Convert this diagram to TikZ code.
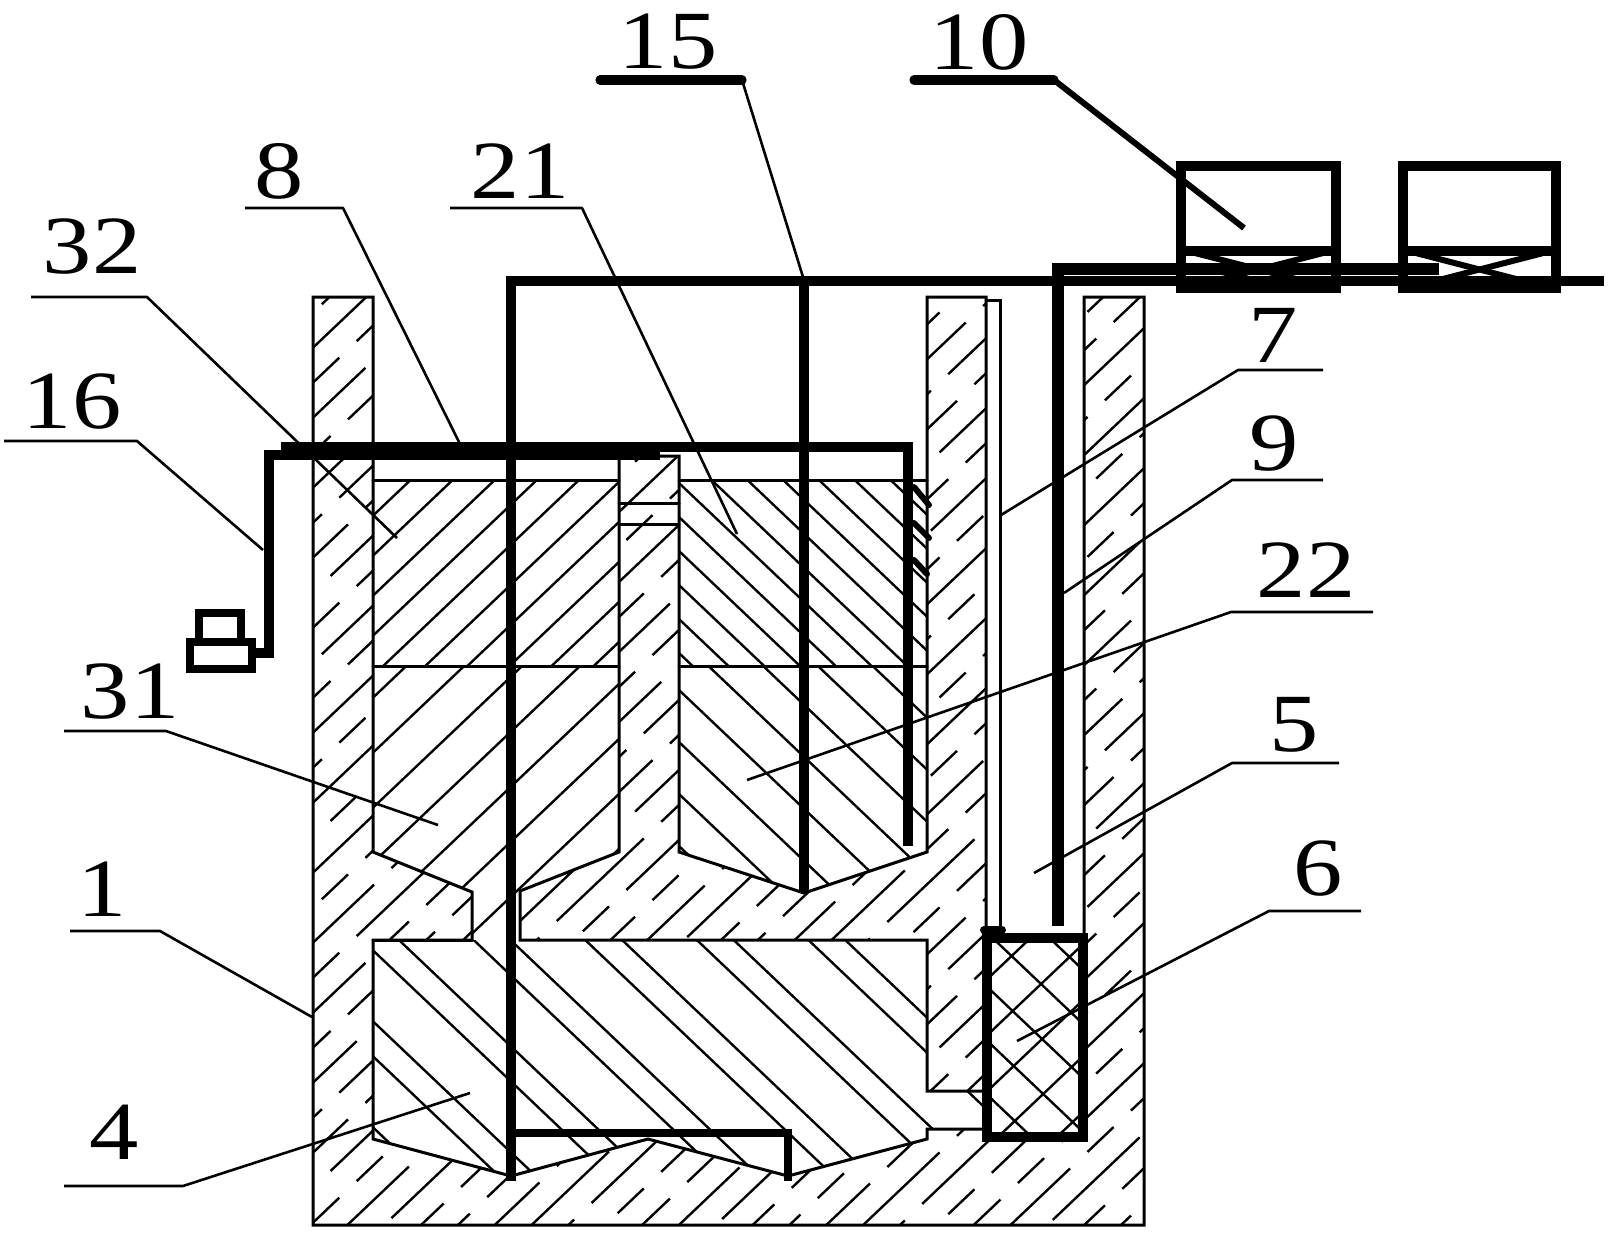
\documentclass[tikz,border=0pt]{standalone}
\usepackage{fontspec}
\setmainfont{Liberation Serif}
\tikzset{
    thinline/.style={line width=1.5pt, line cap=round, line join=miter},
    hatchline/.style={line width=1.2pt},
    rodline/.style={line width=4.6pt, line join=miter},
    leader/.style={line width=1.3pt, line join=round},
    numlabel/.style={font=\fontsize{44}{44}\selectfont, inner sep=0pt, xscale=1.12, yscale=0.94, transform shape}
}
% hatch families, slope 0.95
\newcommand{\hatchrise}[1]{\foreach \c in {#1} {\draw[hatchline] (0,\c) -- (1616,\c-1535.2);}}
\newcommand{\hatchfall}[1]{\foreach \c in {#1} {\draw[hatchline] (0,\c) -- (1616,\c+1535.2);}}
\newcommand{\bodyshape}{(313,297) -- (373,297) -- (373,852) -- (472,892) -- (472,940) -- (373,940) -- (373,1139) -- (511,1176) -- (648,1139) -- (788,1176) -- (927,1139) -- (927,1129) -- (987,1129) -- (987,1137) -- (1084,1137) -- (1084,297) -- (1144,297) -- (1144,1225) -- (313,1225) -- cycle}
\newcommand{\columnshape}{(520,891) -- (619,852) -- (619,456) -- (679,456) -- (679,852) -- (804,893) -- (927,852) -- (927,297) -- (986,297) -- (986,1091) -- (927,1091) -- (927,940) -- (520,940) -- cycle}
\begin{document}
\begin{tikzpicture}[x=0.5pt, y=-0.5pt]
    \useasboundingbox (0,0) rectangle (1616,1232);

    % body hatch, broken lines
    \begin{scope}
        \clip \bodyshape \columnshape;
        \foreach \c [count=\i] in {610,645,...,2320} {
            \pgfmathsetmacro{\ph}{mod(\i*54,102)}
            \draw[hatchline, dash pattern=on 60pt off 12pt on 18pt off 12pt, dash phase=\ph pt] (0,\c) -- (1616,\c-1535.2);
        }
    \end{scope}

    % inserts 32 and 31
    \begin{scope}
        \clip (373,480) rectangle (619,666);
        \hatchrise{830,870,...,1260}
    \end{scope}
    \begin{scope}
        \clip (373,666) -- (619,666) -- (619,852) -- (520,891) -- (520,940) -- (472,940) -- (472,892) -- (373,852) -- cycle;
        \hatchrise{997,1052,...,1500}
    \end{scope}

    % inserts 21 and 22
    \begin{scope}
        \clip (679,480) rectangle (927,666);
        \hatchfall{-400,-366,...,30}
    \end{scope}
    \begin{scope}
        \clip (679,666) -- (927,666) -- (927,852) -- (804,893) -- (679,852) -- cycle;
        \hatchfall{-215,-163,...,210}
    \end{scope}

    % block 4
    \begin{scope}
        \clip (373,940) -- (927,940) -- (927,1091) -- (987,1091) -- (987,1129) -- (927,1129) -- (927,1139) -- (788,1176) -- (648,1139) -- (511,1176) -- (373,1139) -- cycle;
        \hatchfall{137,243,349,455,561,667,773,172,278,384,490,596,702}
    \end{scope}

    % block 6
    \begin{scope}
        \clip (987,938) rectangle (1083,1137);
        \hatchrise{1861,1917,...,2170}
        \hatchfall{-113,-59,...,210}
    \end{scope}

    % outlines
    \draw[thinline] \bodyshape;
    \draw[thinline] \columnshape;
    \draw[thinline] (373,480) -- (619,480);
    \draw[thinline] (679,480) -- (927,480);
    \draw[thinline] (373,666) -- (619,666);
    \draw[thinline] (679,666) -- (927,666);
    \draw[thinline] (472,940) -- (373,940);
    \draw[thinline] (619,503) -- (679,503);
    \draw[thinline] (619,524) -- (679,524);
    \draw[thinline] (986,300) -- (1000,300) -- (1000,930);

    % rods
    \draw[rodline] (511,1181) -- (511,281) -- (1604,281);
    \draw[rodline] (804,281) -- (804,893);
    \draw[rodline, line width=4.2pt] (511,1133) -- (788,1133) -- (788,1181);
    \draw[rodline, line width=5pt] (281,447) -- (908,447) -- (908,846);
    \draw[rodline, line width=5pt] (660,455) -- (269,455) -- (269,653) -- (250,653);
    \draw[rodline, line width=5.6pt] (1058,926) -- (1058,269) -- (1439,269);
    \draw[rodline, line width=3pt, line cap=round] (914,487) -- (929,505);
    \draw[rodline, line width=3pt, line cap=round] (914,523) -- (929,538);
    \draw[rodline, line width=3pt, line cap=round] (914,560) -- (927,574);
    \draw[rodline, line cap=round, line width=4pt] (984,930) -- (1002,930);

    % sensor
    \draw[rodline, line width=4pt] (199,642) -- (199,613) -- (241,613) -- (241,642);
    \draw[rodline, line width=4pt] (190,642) rectangle (252,669);

    % box 6
    \draw[rodline] (987,938) rectangle (1083,1137);

    % valves
    \draw[rodline, line width=5.4pt] (1181,166) rectangle (1336,288);
    \draw[rodline, line width=5.4pt] (1181,251) -- (1336,251);
    \draw[rodline, line width=3pt] (1187,251) -- (1331,288);
    \draw[rodline, line width=3pt] (1187,288) -- (1331,251);
    \draw[rodline, line width=5.4pt] (1403,166) rectangle (1556,288);
    \draw[rodline, line width=5.4pt] (1403,251) -- (1556,251);
    \draw[rodline, line width=3pt] (1408,251) -- (1551,288);
    \draw[rodline, line width=3pt] (1408,288) -- (1551,251);

    % numbers
    \node[numlabel] (n15) at (668,42) {15};
    \node[numlabel] (n10) at (979,42) {10};
    \node[numlabel] (n8) at (279,171) {8};
    \node[numlabel] (n21) at (520,171) {21};
    \node[numlabel] (n32) at (92,247) {32};
    \node[numlabel] (n16) at (72,402) {16};
    \node[numlabel] (n31) at (130,692) {31};
    \node[numlabel] (n1) at (102,889) {1};
    \node[numlabel] (n4) at (114,1132) {4};
    \node[numlabel] (n7) at (1273,335) {7};
    \node[numlabel] (n9) at (1274,444) {9};
    \node[numlabel] (n22) at (1306,570) {22};
    \node[numlabel] (n5) at (1294,725) {5};
    \node[numlabel] (n6) at (1318,869) {6};

    % leader lines
    \coordinate (s15) at (600,80); \coordinate (k15) at (742,80); \coordinate (t15) at (803,277);
    \draw[rodline, line cap=round] (s15) -- (k15);
    \draw[leader] (k15) -- (t15);
    \coordinate (s10) at (914,80); \coordinate (k10) at (1054,80); \coordinate (t10) at (1244,228);
    \draw[rodline, line cap=round] (s10) -- (k10);
    \draw[rodline, line width=3pt] (k10) -- (t10);
    \coordinate (s8) at (245,208); \coordinate (k8) at (343,208); \coordinate (t8) at (459,442);
    \draw[leader] (s8) -- (k8) -- (t8);
    \coordinate (s21) at (450,208); \coordinate (k21) at (582,208); \coordinate (t21) at (737,534);
    \draw[leader] (s21) -- (k21) -- (t21);
    \coordinate (s32) at (31,297); \coordinate (k32) at (147,297); \coordinate (t32) at (397,538);
    \draw[leader] (s32) -- (k32) -- (t32);
    \coordinate (s16) at (4,441); \coordinate (k16) at (137,441); \coordinate (t16) at (263,550);
    \draw[leader] (s16) -- (k16) -- (t16);
    \coordinate (s31) at (64,731); \coordinate (k31) at (166,731); \coordinate (t31) at (438,825);
    \draw[leader] (s31) -- (k31) -- (t31);
    \coordinate (s1) at (70,931); \coordinate (k1) at (160,931); \coordinate (t1) at (312,1017);
    \draw[leader] (s1) -- (k1) -- (t1);
    \coordinate (s4) at (64,1186); \coordinate (k4) at (183,1186); \coordinate (t4) at (470,1093);
    \draw[leader] (s4) -- (k4) -- (t4);
    \coordinate (s7) at (1323,370); \coordinate (k7) at (1238,370); \coordinate (t7) at (1001,515);
    \draw[leader] (s7) -- (k7) -- (t7);
    \coordinate (s9) at (1323,480); \coordinate (k9) at (1232,480); \coordinate (t9) at (1064,593);
    \draw[leader] (s9) -- (k9) -- (t9);
    \coordinate (s22) at (1373,612); \coordinate (k22) at (1231,612); \coordinate (t22) at (747,780);
    \draw[leader] (s22) -- (k22) -- (t22);
    \coordinate (s5) at (1339,763); \coordinate (k5) at (1232,763); \coordinate (t5) at (1034,873);
    \draw[leader] (s5) -- (k5) -- (t5);
    \coordinate (s6) at (1361,911); \coordinate (k6) at (1269,911); \coordinate (t6) at (1017,1041);
    \draw[leader] (s6) -- (k6) -- (t6);
\end{tikzpicture}
\end{document}
